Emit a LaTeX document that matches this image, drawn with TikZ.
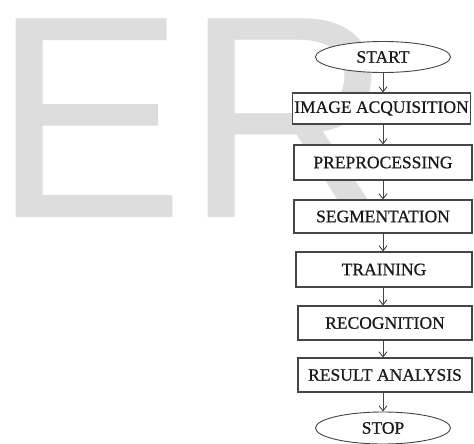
\documentclass[tikz,border=0pt]{standalone}
\usepackage{fontspec}
\setmainfont{Liberation Serif}
\newfontfamily\boxfont[FakeBold=0.7]{Liberation Serif}
\newfontfamily\wmfont{Liberation Sans}
\usetikzlibrary{shapes.geometric,arrows.meta}
\definecolor{wmgray}{HTML}{DDDDDD}
\definecolor{edgegray}{HTML}{454545}
\tikzset{
  labeltext/.style={font=\boxfont\fontsize{17.5}{20}\selectfont, text=black!90},
  stepbox/.style={labeltext, draw=edgegray, line width=1.1pt, fill=white,
    rectangle, minimum width=178pt, inner sep=0pt},
  terminal/.style={labeltext, draw=edgegray, line width=0.9pt, fill=white,
    ellipse, minimum width=135pt, minimum height=31pt, inner sep=0pt},
  flow/.style={draw=edgegray, line width=0.9pt,
    -{Straight Barb[length=5pt,width=8pt,line width=0.9pt]}},
}
\begin{document}
\begin{tikzpicture}[x=1pt,y=-1pt]
  \useasboundingbox (0,0) rectangle (474,444);
  % background watermark letters
  \node[anchor=base west, inner sep=0pt, text=wmgray,
        font=\wmfont\fontsize{289}{289}\selectfont] (wm) at (-8,217) {ER};

  % flowchart
  \node[terminal] (start) at (383,57) {START};
  \node[stepbox, minimum height=31pt] (acq) at (381.5,108.5) {IMAGE ACQUISITION};
  \node[stepbox, minimum height=35pt] (pre) at (383,162.5) {PREPROCESSING};
  \node[stepbox, minimum height=33pt] (seg) at (383,216.5) {SEGMENTATION};
  \node[stepbox, minimum height=35pt, minimum width=176pt] (train) at (384,269.5) {TRAINING};
  \node[stepbox, minimum height=34pt, minimum width=174pt] (recog) at (385,323) {RECOGNITION};
  \node[stepbox, minimum height=34pt, minimum width=174pt] (result) at (385,375) {RESULT ANALYSIS};
  \node[terminal, minimum height=32pt] (stop) at (383,428) {STOP};

  \draw[flow] (start.south) -- (start.south |- acq.north);
  \draw[flow] (start.south |- acq.south) -- (start.south |- pre.north);
  \draw[flow] (start.south |- pre.south) -- (start.south |- seg.north);
  \draw[flow] (start.south |- seg.south) -- (start.south |- train.north);
  \draw[flow] (start.south |- train.south) -- (start.south |- recog.north);
  \draw[flow] (start.south |- recog.south) -- (start.south |- result.north);
  \draw[flow] (start.south |- result.south) -- (stop.north);
\end{tikzpicture}
\end{document}
